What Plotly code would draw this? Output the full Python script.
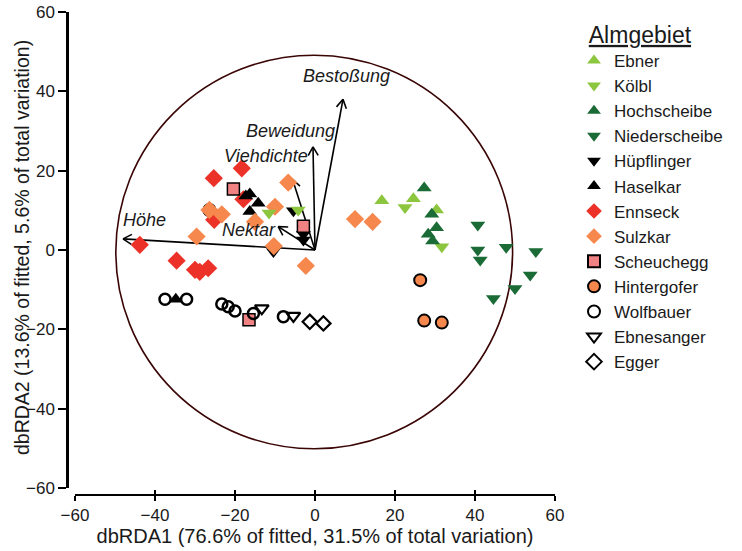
import plotly.graph_objects as go
import numpy as np

# ---------------- data ----------------
ebner_x = [16.7, 24.6, 30.4]
ebner_y = [12.4, 12.9, 10.1]
koelbl_x = [-11.5, -4.2, 22.5, 31.7]
koelbl_y = [9.3, 10.1, 10.7, 0.8]
hochscheibe_x = [27.3, 29.2, 30.4, 28.3, 29.4]
hochscheibe_y = [15.6, 9.0, 5.6, 4.0, 2.3]
niederscheibe_x = [40.7, 40.7, 41.3, 47.8, 55.2, 53.8, 50.0, 44.6]
niederscheibe_y = [6.3, 0.0, -2.5, 0.7, -0.4, -6.3, -9.7, -12.2]
huepflinger_x = [-5.4, -2.9, -2.9, -10.4]
huepflinger_y = [9.9, 4.0, 2.5, -0.4]
haselkar_x = [-17.3, -16.3, -14.2, -16.3, -34.8]
haselkar_y = [13.6, 14.1, 11.8, 9.7, -12.4]
ennseck_x = [-25.3, -18.3, -17.9, -25.2, -43.8, -34.6, -30.0, -28.8, -26.7]
ennseck_y = [18.1, 20.6, 12.8, 7.6, 1.3, -2.7, -5.0, -5.5, -4.6]
sulzkar_x = [-6.7, -26.4, -23.3, -15.0, -10.0, -29.6, -10.3, -2.3, 10.0, 14.4]
sulzkar_y = [17.0, 10.1, 9.0, 7.1, 10.9, 3.4, 1.0, -4.0, 7.8, 7.1]
scheuchegg_x = [-20.4, -2.9, -16.5]
scheuchegg_y = [15.4, 6.0, -17.6]
hintergofer_x = [26.3, 27.3, 31.7, -26.4]
hintergofer_y = [-7.6, -17.8, -18.3, 10.1]
wolfbauer_x = [-37.5, -32.1, -23.3, -21.7, -20.0, -15.4, -7.9]
wolfbauer_y = [-12.4, -12.4, -13.6, -14.3, -15.4, -16.0, -16.8]
ebnesanger_x = [-13.3, -5.4]
ebnesanger_y = [-14.7, -16.6]
egger_x = [-1.3, 2.1]
egger_y = [-18.1, -18.5]

vector_names = ["Bestoßung", "Beweidung", "Viehdichte", "Nektar", "Höhe"]
vector_x = [7.0, -0.5, -5.6, -9.2, -48.0]
vector_y = [38.0, 26.0, 17.8, 5.9, 2.8]

circle_center = (-0.2, -0.5)
circle_radius = 49.6
x_ticks = [-60, -40, -20, 0, 20, 40, 60]
y_ticks = [-60, -40, -20, 0, 20, 40, 60]

FONT = "Arial, 'Liberation Sans', Helvetica, sans-serif"
TXT = "#1a1a1a"
LIGHT_GREEN = "#8cc63e"
DARK_GREEN = "#1b6b36"
RED = "#ec3228"
ORANGE = "#f6874d"
PINK = "#f08284"

W, H = 742, 551
x_dom = [75 / W, 555 / W]
y_dom = [1 - 488 / H, 1 - 12 / H]

fig = go.Figure()

# circle
cx, cy = circle_center
fig.add_shape(type="circle", xref="x", yref="y",
              x0=cx - circle_radius, x1=cx + circle_radius,
              y0=cy - circle_radius, y1=cy + circle_radius,
              line=dict(color="#3a0505", width=1.6), layer="below")

# vectors drawn as lines with open arrowheads (computed in pixel space)
px_per_x = (x_dom[1] - x_dom[0]) * W / 120.0
px_per_y = (y_dom[1] - y_dom[0]) * H / 120.0
hx, hy = [], []
for vx, vy in zip(vector_x, vector_y):
    hx += [0, vx, None]
    hy += [0, vy, None]
    ang = np.arctan2(vy * px_per_y, vx * px_per_x)
    L = 10.0
    for d in (np.pi * 5 / 6, -np.pi * 5 / 6):
        ex = vx + L * np.cos(ang + d) / px_per_x
        ey = vy + L * np.sin(ang + d) / px_per_y
        hx += [vx, ex, None]
        hy += [vy, ey, None]
fig.add_trace(go.Scatter(x=hx, y=hy, mode="lines", line=dict(color="black", width=1.6),
                         showlegend=False, hoverinfo="skip"))

# label placement relative to vector tips (pixel shifts)
label_shift = {
    "Bestoßung": (3, 23),
    "Beweidung": (-23, 16),
    "Viehdichte": (-27, 23),
    "Nektar": (-29, -3),
    "Höhe": (21, 19),
}
for name, vx, vy in zip(vector_names, vector_x, vector_y):
    sx, sy = label_shift[name]
    fig.add_annotation(x=vx, y=vy, xref="x", yref="y", text=f"<i>{name}</i>",
                       showarrow=False, font=dict(family=FONT, size=18, color=TXT),
                       xanchor="center", yanchor="middle", xshift=sx, yshift=sy)

groups = [
    ("Hintergofer", hintergofer_x, hintergofer_y, "circle", ORANGE, "black", 2, 12),
    ("Ennseck", ennseck_x, ennseck_y, "diamond", RED, RED, 0, 14),
    ("Haselkar", haselkar_x, haselkar_y, "triangle-up", "black", "black", 0, 13),
    ("Hüpflinger", huepflinger_x, huepflinger_y, "triangle-down", "black", "black", 0, 13),
    ("Sulzkar", sulzkar_x, sulzkar_y, "diamond", ORANGE, ORANGE, 0, 14),
    ("Kölbl", koelbl_x, koelbl_y, "triangle-down", LIGHT_GREEN, LIGHT_GREEN, 0, 13),
    ("Ebner", ebner_x, ebner_y, "triangle-up", LIGHT_GREEN, LIGHT_GREEN, 0, 13),
    ("Hochscheibe", hochscheibe_x, hochscheibe_y, "triangle-up", DARK_GREEN, DARK_GREEN, 0, 13),
    ("Niederscheibe", niederscheibe_x, niederscheibe_y, "triangle-down", DARK_GREEN, DARK_GREEN, 0, 13),
    ("Scheuchegg", scheuchegg_x, scheuchegg_y, "square", PINK, "black", 1.5, 12),
    ("Wolfbauer", wolfbauer_x, wolfbauer_y, "circle-open", "black", "black", 2.5, 11),
    ("Ebnesanger", ebnesanger_x, ebnesanger_y, "triangle-down-open", "black", "black", 2.2, 12),
    ("Egger", egger_x, egger_y, "diamond-open", "black", "black", 2.2, 11),
]
legend_order = ["Ebner", "Kölbl", "Hochscheibe", "Niederscheibe", "Hüpflinger", "Haselkar",
                "Ennseck", "Sulzkar", "Scheuchegg", "Hintergofer", "Wolfbauer", "Ebnesanger", "Egger"]

for name, gx, gy, sym, col, lcol, lw, sz in groups:
    fig.add_trace(go.Scatter(
        x=gx, y=gy, mode="markers", name=name,
        legendrank=100 + legend_order.index(name),
        marker=dict(symbol=sym, color=col, size=sz, line=dict(color=lcol, width=lw)),
    ))

axis_font = dict(family=FONT, size=17, color=TXT)
fig.update_layout(
    width=W, height=H,
    margin=dict(l=0, r=0, t=0, b=0),
    paper_bgcolor="white", plot_bgcolor="white",
    font=dict(family=FONT, color=TXT),
    showlegend=True,
    legend=dict(
        x=574 / W, y=1 - 13 / H, xanchor="left", yanchor="top",
        title=dict(text="&nbsp;&nbsp;<u>Almgebiet</u>", font=dict(family=FONT, size=23, color=TXT)),
        font=dict(family=FONT, size=17, color=TXT),
        tracegroupgap=0, itemsizing="constant", bgcolor="rgba(0,0,0,0)",
    ),
    xaxis=dict(
        domain=x_dom, range=[-60, 60], anchor="free", position=1 - 495 / H,
        tickvals=x_ticks, ticks="outside", ticklen=5, tickwidth=1.5, tickcolor="black",
        showline=True, linecolor="black", linewidth=1.5, showgrid=False, zeroline=False,
        tickfont=axis_font, automargin=False,
        title=dict(text="dbRDA1 (76.6% of fitted, 31.5% of total variation)",
                   font=dict(family=FONT, size=20, color=TXT), standoff=0),
    ),
    xaxis2=dict(
        domain=x_dom, range=[-60, 60], overlaying="x", anchor="free", position=1 - 495 / H,
        tickvals=x_ticks, ticks="inside", ticklen=5, tickwidth=1.5, tickcolor="black",
        showticklabels=False, showline=False, showgrid=False, zeroline=False, automargin=False,
    ),
    yaxis=dict(
        domain=y_dom, range=[-60, 60], anchor="free", position=67 / W,
        tickvals=y_ticks, ticks="outside", ticklen=8, tickwidth=2, tickcolor="black",
        showline=True, linecolor="black", linewidth=2.5, showgrid=False, zeroline=False,
        tickfont=axis_font, automargin=False,
    ),
)
# y axis title placed as rotated text beside the tick labels
fig.add_annotation(text="dbRDA2 (13.6% of fitted, 5.6% of total variation)",
                   xref="paper", yref="paper", x=22 / W, y=1 - 248 / H,
                   xanchor="center", yanchor="middle", textangle=-90, showarrow=False,
                   font=dict(family=FONT, size=19.5, color=TXT))
fig.add_trace(go.Scatter(x=[None], y=[None], xaxis="x2", showlegend=False, hoverinfo="skip"))

# remove the default page margin so the 742x551 figure fills the window exactly
fig.write_html("out.html", config={"displayModeBar": False},
               post_script="document.body.style.margin='0px';")
